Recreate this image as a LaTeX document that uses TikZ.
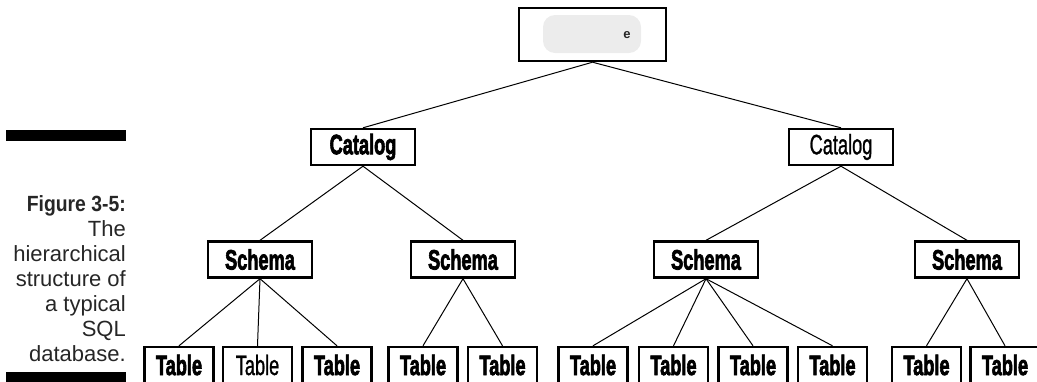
\documentclass[tikz,border=0pt]{standalone}
\usepackage{graphicx}
\usepackage{fontspec}
\setmainfont{Liberation Sans}
\newfontfamily\heavyfont[FakeBold=3]{Liberation Sans Bold}
\newfontfamily\mediumfont[FakeBold=1.3]{Liberation Sans}
\newcommand{\hv}[1]{\scalebox{0.65}[1]{\heavyfont #1}}
\newcommand{\rg}[1]{\scalebox{0.65}[1]{\mediumfont #1}}
\tikzset{
  box/.style={draw, line width=2.4pt, minimum width=104pt, minimum height=36pt,
    inner sep=0pt, font=\fontsize{28}{28}\selectfont},
  tbl/.style={box, minimum width=69pt},
  conn/.style={line width=1pt},
  capline/.style={anchor=base east, inner sep=0pt, text=black!85, font=\fontsize{22}{25}\selectfont},
}
\begin{document}
\begin{tikzpicture}[x=1pt,y=-1pt]
\useasboundingbox (0,0) rectangle (1037,381);
\clip (0,0) rectangle (1037,381);
% caption
\fill (6,130) rectangle (126,141);
\fill (6,372) rectangle (126,386);
\node[capline] (cap1) at (126,211) {\scalebox{0.88}[1]{\textbf{Figure 3-5:}}};
\node[capline] (cap2) at (126,236) {The};
\node[capline] (cap3) at (126,261) {hierarchical};
\node[capline] (cap4) at (126,286) {structure of};
\node[capline] (cap5) at (126,311) {a typical};
\node[capline] (cap6) at (126,336) {SQL};
\node[capline] (cap7) at (126,361) {database.};
% top
\node[box, minimum width=147pt, minimum height=53pt] (top) at (592.5,34.5) {};
\fill[gray!15, rounded corners=12pt] (543,15) rectangle (641,53);
\node[inner sep=0pt, font=\fontsize{13}{13}\selectfont\bfseries, text=black!85] (tope) at (627,35) {e};
% catalogs
\node[box] (c1) at (363,147) {\hv{Catalog}};
\node[box] (c2) at (841,147) {\rg{Catalog}};
% schemas
\node[box] (s1) at (260,259.5) {\hv{Schema}};
\node[box] (s2) at (463,259.5) {\hv{Schema}};
\node[box] (s3) at (706,259.5) {\hv{Schema}};
\node[box] (s4) at (967,259.5) {\hv{Schema}};
% tables
\node[tbl] (t1) at (179,365) {\hv{Table}};
\node[tbl] (t2) at (257.5,365) {\rg{Table}};
\node[tbl] (t3) at (337,365) {\hv{Table}};
\node[tbl] (t4) at (423,365) {\hv{Table}};
\node[tbl] (t5) at (502.5,365) {\hv{Table}};
\node[tbl] (t6) at (593,365) {\hv{Table}};
\node[tbl] (t7) at (673.5,365) {\hv{Table}};
\node[tbl] (t8) at (753,365) {\hv{Table}};
\node[tbl] (t9) at (832.5,365) {\hv{Table}};
\node[tbl] (t10) at (926.5,365) {\hv{Table}};
\node[tbl] (t11) at (1005,365) {\hv{Table}};
% connectors
\draw[conn] (top.south) -- (c1.north);
\draw[conn] (top.south) -- (c2.north);
\draw[conn] (c1.south) -- (s1.north);
\draw[conn] (c1.south) -- (s2.north);
\draw[conn] (c2.south) -- (s3.north);
\draw[conn] (c2.south) -- (s4.north);
\draw[conn] (s1.south) -- (t1.north);
\draw[conn] (s1.south) -- (t2.north);
\draw[conn] (s1.south) -- (t3.north);
\draw[conn] (s2.south) -- (t4.north);
\draw[conn] (s2.south) -- (t5.north);
\draw[conn] (s3.south) -- (t6.north);
\draw[conn] (s3.south) -- (t7.north);
\draw[conn] (s3.south) -- (t8.north);
\draw[conn] (s3.south) -- (t9.north);
\draw[conn] (s4.south) -- (t10.north);
\draw[conn] (s4.south) -- (t11.north);
\end{tikzpicture}
\end{document}
